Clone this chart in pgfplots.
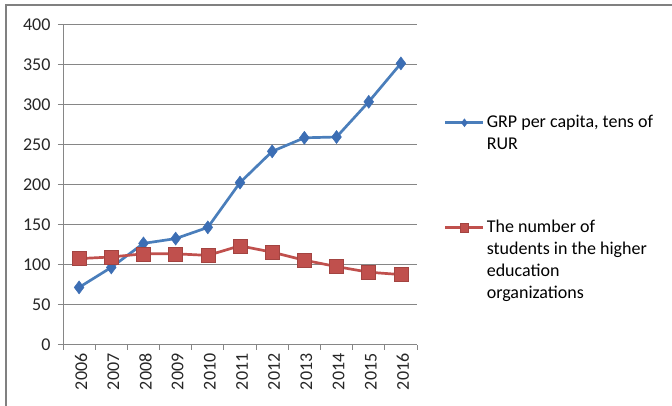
\documentclass[border=0pt]{standalone}
\usepackage{fontspec}
\setmainfont{Carlito}
\usepackage{pgfplots}
\pgfplotsset{compat=1.18}
\definecolor{grpblue}{RGB}{74,126,187}
\definecolor{grpmark}{RGB}{60,110,180}
\definecolor{stured}{RGB}{192,80,77}
\definecolor{gridgray}{RGB}{134,134,134}

\begin{document}
\begin{tikzpicture}[font=\fontsize{18}{22}\selectfont]
  \useasboundingbox (0,0) rectangle (672pt,406pt);
  \draw[gray, line width=1.5pt] (6pt,0) -- (6pt,401pt) -- (672pt,401pt);
  \begin{axis}[
    at={(63pt,61pt)}, anchor=south west,
    scale only axis,
    width=354pt, height=320pt,
    xmin=-0.5, xmax=10.5,
    ymin=0, ymax=400,
    ytick={0,50,...,400},
    xtick={-0.5,0.5,...,10.5},
    x tick label as interval,
    xticklabels={2006,2007,2008,2009,2010,2011,2012,2013,2014,2015,2016},
    xticklabel style={rotate=90, anchor=east, yshift=-2pt},
    yticklabel style={xshift=-4pt},
    axis lines*=left,
    tick align=outside,
    major tick length=5pt,
    axis line style={gridgray, line width=1pt},
    tick style={gridgray, line width=1pt},
    ymajorgrids=true,
    grid style={gridgray, line width=1pt},
    xmajorgrids=false,
    /pgf/number format/assume math mode=true,
    ticklabel style={text=black!85},
    clip=false,
    legend style={
      at={(axis description cs:1.076,0.726)}, anchor=north west,
      draw=none, fill=none, inner sep=0pt,
      row sep=87pt, column sep=0pt,
      cells={anchor=base west, inner sep=0pt},
    },
    legend image code/.code={
      \draw[#1, mark repeat=2, mark phase=2, yshift=4.5pt,
            every mark/.append style={scale=0.6}]
        plot coordinates {(0pt,0pt) (19pt,0pt) (38pt,0pt)};
    },
  ]
    \addplot[grpblue, line width=2.7pt, mark=diamond*, mark size=6.5pt,
      mark options={fill=grpmark, draw=grpmark, line width=0.5pt}]
      coordinates {(0,72) (1,97) (2,127) (3,133) (4,147) (5,203)
                   (6,242) (7,259) (8,260) (9,304) (10,352)};
    \addplot[stured, line width=2.7pt, mark=square*, mark size=7pt,
      mark options={fill=stured, draw=stured!85!black, line width=0.5pt}]
      coordinates {(0,108) (1,110) (2,114) (3,114) (4,112) (5,124)
                   (6,116) (7,106) (8,98) (9,91) (10,88)};
    \legend{\parbox[t]{180pt}{\raggedright GRP per capita, tens of\\RUR},
            \parbox[t]{180pt}{\raggedright The number of\\students in the higher\\education\\organizations}}
  \end{axis}
\end{tikzpicture}
\end{document}
